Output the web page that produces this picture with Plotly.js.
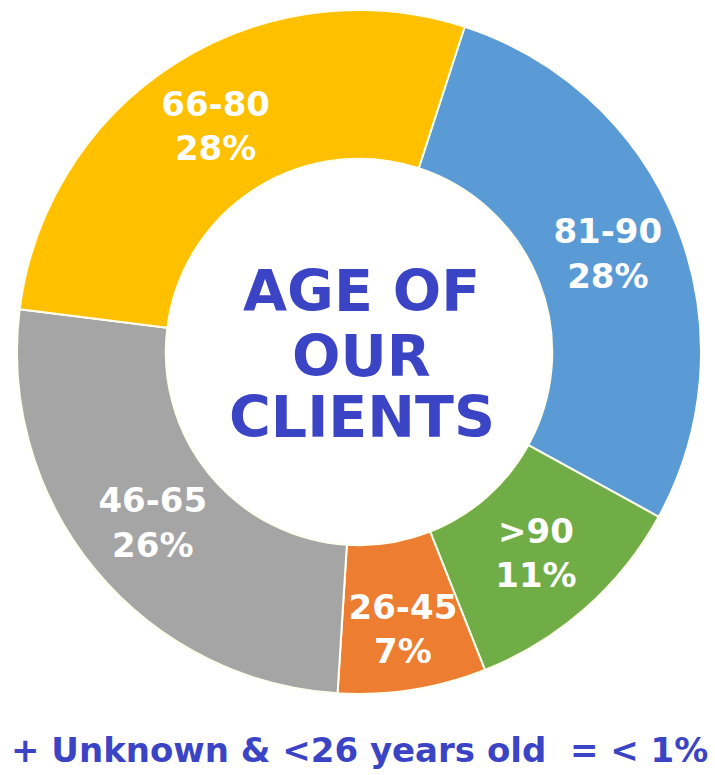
<!DOCTYPE html>
<html>
<head>
<meta charset="utf-8">
<script src="https://cdn.plot.ly/plotly-3.0.1.min.js"></script>
<style>html,body{margin:0;padding:0;background:#fff;}#chart{width:715px;height:775px;}</style>
</head>
<body>
<div id="chart"></div>
<script>
const ageGroups = ["81-90", ">90", "26-45", "46-65", "66-80"];
const shares = [28, 11, 7, 26, 28];
const sliceColors = ["#5B9BD5", "#70AD47", "#ED7D31", "#A5A5A5", "#FFC000"];
const centerLines = ["AGE OF", "OUR", "CLIENTS"];
const footnote = "+ Unknown & <26 years old  = < 1%";

const FONT = "DejaVu Sans, Arial, sans-serif";
const BLUE_TEXT = "#3C44C6";

const trace = {
  type: "pie",
  labels: ageGroups,
  values: shares,
  sort: false,
  direction: "clockwise",
  rotation: 18,
  hole: 0.565,
  marker: { colors: sliceColors, line: { color: "#FFFFF0", width: 2 } },
  texttemplate: "%{label}<br>%{value}%",
  textposition: "inside",
  insidetextorientation: "horizontal",
  textfont: { family: FONT, size: 34, color: "#FFFFFF", weight: "bold" },
  domain: { x: [17/715, 701/715], y: [1 - 694/775, 1 - 10/775] },
  showlegend: false,
  hoverinfo: "label+value"
};

const centerY = [0.624, 0.541, 0.462];
const annotations = centerLines.map((t, i) => ({
  text: "<b>" + t + "</b>",
  x: 0.506, y: centerY[i], xref: "paper", yref: "paper",
  xanchor: "center", yanchor: "middle", showarrow: false,
  font: { family: FONT, size: 57, color: BLUE_TEXT }
}));
annotations.push({
  text: "<b>" + footnote.replace(/&/g, "&amp;").replace(/</g, "&lt;") + "</b>",
  x: 0.503, y: 0.032, xref: "paper", yref: "paper",
  xanchor: "center", yanchor: "middle", showarrow: false,
  font: { family: FONT, size: 34, color: BLUE_TEXT }
});

const layout = {
  width: 715, height: 775,
  margin: { l: 0, r: 0, t: 0, b: 0 },
  paper_bgcolor: "#FFFFFF",
  uniformtext: { minsize: 34, mode: "show" },
  annotations: annotations
};

Plotly.newPlot("chart", [trace], layout, { displayModeBar: false, staticPlot: true });
</script>
</body>
</html>
